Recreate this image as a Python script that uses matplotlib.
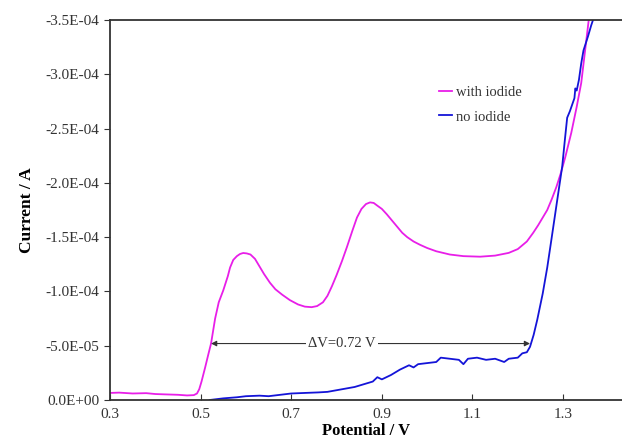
import numpy as np
import matplotlib
matplotlib.use("Agg")
import matplotlib.pyplot as plt
from matplotlib.ticker import FuncFormatter

# with iodide (magenta)
v_iod = [0.30, 0.32, 0.35, 0.38, 0.40, 0.42, 0.45, 0.47, 0.485, 0.492, 0.497,
         0.502, 0.51, 0.517, 0.523, 0.532, 0.54, 0.55, 0.56, 0.565, 0.572, 0.58,
         0.587, 0.594, 0.602, 0.61, 0.62, 0.63, 0.64, 0.653, 0.665, 0.68, 0.697,
         0.715, 0.73, 0.745, 0.757, 0.77, 0.78, 0.79, 0.80, 0.812, 0.823, 0.835,
         0.845, 0.855, 0.865, 0.874, 0.882, 0.89, 0.90, 0.911, 0.923, 0.935,
         0.945, 0.956, 0.97, 0.984, 1.00, 1.02, 1.05, 1.08, 1.117, 1.15, 1.18,
         1.20, 1.22, 1.234, 1.245, 1.255, 1.265, 1.275, 1.285, 1.295, 1.305,
         1.318, 1.33, 1.34, 1.348, 1.358]
i_iod = [-6.5e-6, -6.8e-6, -6.0e-6, -6.3e-6, -5.5e-6, -5.2e-6, -4.8e-6, -4.2e-6,
         -4.5e-6, -6e-6, -1.0e-5, -1.7e-5, -3.0e-5, -4.2e-5, -5.2e-5, -7.5e-5,
         -9.0e-5, -1.01e-4, -1.14e-4, -1.22e-4, -1.29e-4, -1.325e-4, -1.345e-4,
         -1.354e-4, -1.35e-4, -1.34e-4, -1.30e-4, -1.23e-4, -1.16e-4, -1.08e-4,
         -1.02e-4, -9.7e-5, -9.2e-5, -8.8e-5, -8.6e-5, -8.55e-5, -8.65e-5,
         -9.0e-5, -9.6e-5, -1.05e-4, -1.15e-4, -1.28e-4, -1.41e-4, -1.56e-4,
         -1.68e-4, -1.76e-4, -1.805e-4, -1.82e-4, -1.815e-4, -1.79e-4, -1.76e-4,
         -1.71e-4, -1.65e-4, -1.59e-4, -1.54e-4, -1.50e-4, -1.46e-4, -1.43e-4,
         -1.40e-4, -1.37e-4, -1.34e-4, -1.325e-4, -1.32e-4, -1.33e-4, -1.355e-4,
         -1.39e-4, -1.46e-4, -1.54e-4, -1.61e-4, -1.68e-4, -1.75e-4, -1.85e-4,
         -1.96e-4, -2.09e-4, -2.24e-4, -2.46e-4, -2.70e-4, -2.92e-4, -3.2e-4,
         -3.55e-4]

# no iodide (blue)
v_no = [0.52, 0.55, 0.58, 0.60, 0.63, 0.65, 0.68, 0.70, 0.73, 0.76, 0.78, 0.80,
        0.82, 0.84, 0.86, 0.88, 0.89, 0.90, 0.92, 0.94, 0.96, 0.97, 0.98, 1.00,
        1.02, 1.03, 1.05, 1.07, 1.08, 1.09, 1.11, 1.13, 1.15, 1.17, 1.18, 1.20,
        1.21, 1.22, 1.227, 1.235, 1.243, 1.255, 1.265, 1.275, 1.287, 1.298,
        1.304, 1.309, 1.315, 1.32, 1.325, 1.327, 1.33, 1.335, 1.34, 1.345,
        1.355, 1.362, 1.37]
i_no = [0.0, -1.5e-6, -2.5e-6, -3.5e-6, -4e-6, -3.5e-6, -5e-6, -6e-6, -6.5e-6,
        -7e-6, -7.5e-6, -9e-6, -1.05e-5, -1.2e-5, -1.45e-5, -1.7e-5, -2.1e-5,
        -1.9e-5, -2.3e-5, -2.8e-5, -3.2e-5, -3.0e-5, -3.3e-5, -3.4e-5, -3.5e-5,
        -3.9e-5, -3.8e-5, -3.7e-5, -3.3e-5, -3.8e-5, -3.9e-5, -3.7e-5, -3.8e-5,
        -3.5e-5, -3.8e-5, -3.9e-5, -4.3e-5, -4.4e-5, -4.9e-5, -6e-5, -7.4e-5,
        -9.8e-5, -1.22e-4, -1.5e-4, -1.84e-4, -2.15e-4, -2.4e-4, -2.6e-4,
        -2.66e-4, -2.72e-4, -2.78e-4, -2.87e-4, -2.85e-4, -2.95e-4, -3.1e-4,
        -3.22e-4, -3.35e-4, -3.45e-4, -3.55e-4]

xticks = [0.3, 0.5, 0.7, 0.9, 1.1, 1.3]
yticks = [0, -5e-5, -1e-4, -1.5e-4, -2e-4, -2.5e-4, -3e-4, -3.5e-4]

plt.rcParams['font.family'] = ['Liberation Serif', 'DejaVu Serif']

fig = plt.figure(figsize=(6.22, 4.44), dpi=100)
ax = fig.add_axes([110/622, 44/444, 512/622, 380/444])

ax.plot(v_iod, i_iod, color='#e81ee8', lw=1.3, label='with iodide')
ax.plot(v_no, i_no, color='#1414d8', lw=1.3, label='no iodide')

ax.set_xlim(0.3, 1.43)
ax.set_ylim(0, -3.5e-4)
ax.set_xticks(xticks)
ax.set_yticks(yticks)
ax.xaxis.set_major_formatter(FuncFormatter(lambda v, p: f"{v:.1f}"))
ax.yaxis.set_major_formatter(FuncFormatter(lambda v, p: f"{v:.1E}" if v != 0 else "0.0E+00"))
ax.tick_params(axis='x', direction='in', length=4, labelsize=11, colors='#333333', pad=6)
ax.tick_params(axis='y', direction='out', length=4, labelsize=11, colors='#333333')
for s in ['left', 'bottom', 'top']:
    ax.spines[s].set_color('#333333')
    ax.spines[s].set_linewidth(1.3)
ax.spines['right'].set_visible(False)

ax.set_xlabel('Potential / V', fontsize=12, fontweight='bold', labelpad=1)
ax.set_ylabel('Current / A', fontsize=12.5, fontweight='bold', labelpad=8)

ax.legend(loc='upper left', bbox_to_anchor=(0.628, 0.845), frameon=False,
          fontsize=10.5, handlelength=0.9, handletextpad=0.3, labelspacing=0.75,
          borderpad=0, labelcolor='#333333')

ax.annotate('', xy=(0.523, -5.2e-5), xytext=(1.227, -5.2e-5),
            arrowprops=dict(arrowstyle='<|-|>', color='#333333', lw=0.8,
                            mutation_scale=8, shrinkA=0, shrinkB=0))
ax.text(0.812, -5.2e-5, 'ΔV=0.72 V', ha='center', va='center', fontsize=10.5,
        color='#333333', bbox=dict(facecolor='white', edgecolor='none', pad=1.5))

fig.savefig('out.png', dpi=100)
